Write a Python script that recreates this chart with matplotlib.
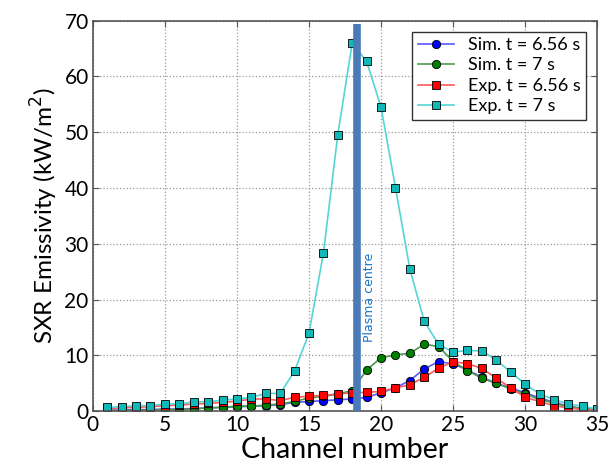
import matplotlib
matplotlib.use("Agg")
import matplotlib.pyplot as plt
import numpy as np

plt.rcParams['font.family'] = ['Lato', 'DejaVu Sans']

channels = np.arange(1, 36)

sim_656 = [0.2, 0.2, 0.3, 0.3, 0.4, 0.4, 0.5, 0.6, 0.7, 0.8, 0.9, 1.0,
           1.2, 1.6, 1.75, 1.9, 2.05, 2.2, 2.5, 3.3, 4.2, 5.5, 7.6, 8.9,
           8.5, 7.4, 6.1, 5.0, 4.2, 3.3, 2.4, 1.6, 0.9, 0.5, 0.3]
sim_7 = [0.1, 0.1, 0.2, 0.2, 0.3, 0.3, 0.4, 0.6, 0.7, 0.9, 0.9, 1.1,
         1.3, 1.75, 2.4, 2.65, 3.1, 3.7, 7.4, 9.6, 10.1, 10.4, 12.0, 11.6,
         8.9, 7.3, 5.9, 5.0, 4.0, 3.1, 2.1, 1.5, 0.75, 0.5, 0.3]
exp_656 = [0.5, 0.6, 0.7, 0.8, 1.0, 1.1, 1.3, 1.4, 1.6, 1.8, 2.2, 2.2,
           1.9, 2.5, 2.7, 2.85, 3.1, 3.3, 3.4, 3.55, 4.2, 4.75, 6.1, 7.7,
           8.9, 8.5, 7.7, 5.9, 4.2, 2.5, 1.75, 1.0, 0.6, 0.3, 0.2]
exp_7 = [0.7, 0.8, 1.0, 1.0, 1.3, 1.3, 1.7, 1.7, 2.0, 2.2, 2.5, 3.2,
         3.2, 7.2, 14.0, 28.3, 49.6, 66.0, 62.7, 54.5, 40.1, 25.5, 16.1, 12.0,
         10.6, 10.9, 10.8, 9.2, 7.0, 4.9, 3.1, 2.1, 1.3, 0.9, 0.4]

plasma_centre = 18.35

fig = plt.figure(figsize=(6.15, 4.70), dpi=100)
ax = fig.add_axes([0.151, 0.125, 0.820, 0.831])

ax.plot(channels, sim_656, '-o', color='#5a5aff', mfc='#0000ff', mec='k',
        mew=0.6, ms=6, lw=1.2, label='Sim. t = 6.56 s')
ax.plot(channels, sim_7, '-o', color='#4a9a4a', mfc='#008000', mec='k',
        mew=0.6, ms=6, lw=1.2, label='Sim. t = 7 s')
ax.plot(channels, exp_656, '-s', color='#ff5a5a', mfc='#ff0000', mec='k',
        mew=0.6, ms=6, lw=1.2, label='Exp. t = 6.56 s')
ax.plot(channels, exp_7, '-s', color='#55d5d5', mfc='#10b8b8', mec='k',
        mew=0.6, ms=6, lw=1.2, label='Exp. t = 7 s')

# vertical marker for the plasma centre
ax.axvline(plasma_centre, ymin=0, ymax=0.992, color='#4a7ab8', lw=5.5,
           zorder=5, solid_capstyle='butt')
ax.text(plasma_centre + 0.85, 12.5, 'Plasma centre', rotation=90,
        color='#1a75c8', fontsize=9, ha='center', va='bottom',
        family=['DejaVu Sans'])

ax.set_xlim(0, 35)
ax.set_ylim(0, 70)
ax.set_xticks(np.arange(0, 36, 5))
ax.set_yticks(np.arange(0, 71, 10))
ax.grid(True, linestyle=':', color='#999999', lw=0.9)
ax.tick_params(direction='in', top=True, right=True, labelsize=15,
               length=4, color='#555555', pad=3)
for s in ax.spines.values():
    s.set_color('#555555')
    s.set_linewidth(1.2)

ax.set_xlabel('Channel number', fontsize=20.5, labelpad=1)
ax.set_ylabel('SXR Emissivity (kW/m$^2$)', fontsize=17.5, labelpad=3)

leg = ax.legend(loc='upper right', fontsize=13, fancybox=False,
                framealpha=1, edgecolor='#333333', handlelength=2.0,
                borderaxespad=0.6, labelspacing=0.25, handletextpad=0.8,
                borderpad=0.3)
leg.get_frame().set_linewidth(1.0)

fig.savefig('out.png', dpi=100)
